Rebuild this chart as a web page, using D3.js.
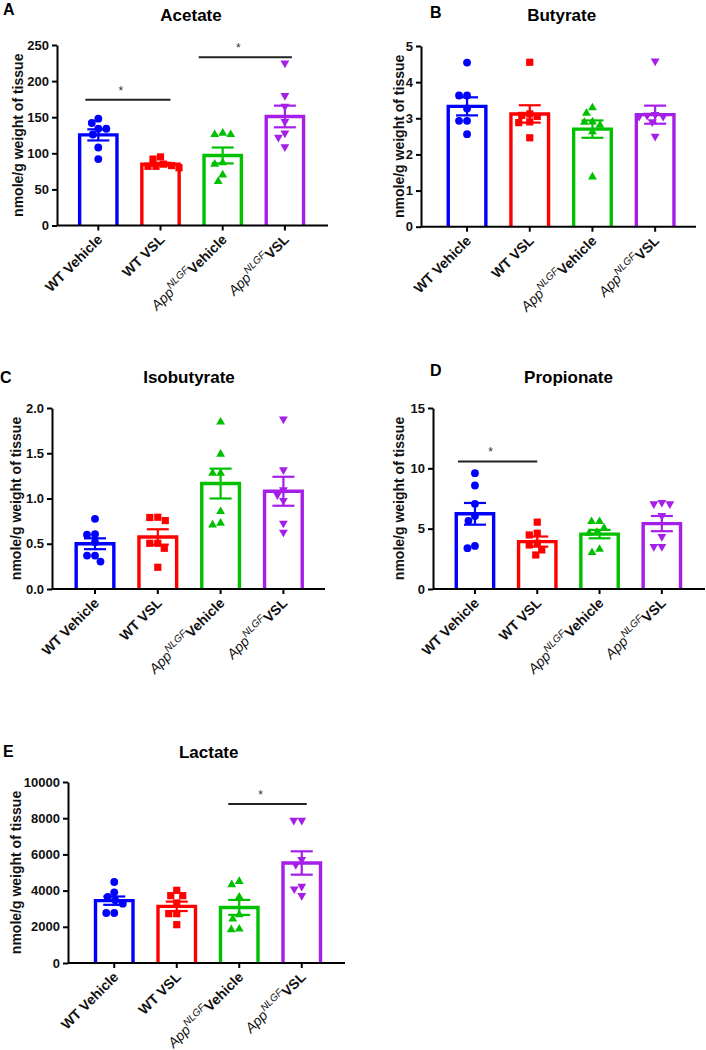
<!DOCTYPE html>
<html><head><meta charset="utf-8">
<script src="https://cdn.jsdelivr.net/npm/d3@7"></script>
<style>
body{margin:0;background:#fff}
svg{display:block}
text{font-family:"Liberation Sans",Arial,Helvetica,sans-serif}
</style>
</head><body>
<svg id="chart" width="706" height="1050"></svg>
<script>
// ---------------- DATA ----------------
const groups = ["WT Vehicle", "WT VSL", "AppNLGF Vehicle", "AppNLGF VSL"];
const groupColors = ["#0000ff", "#ff0000", "#00c000", "#a61fe8"];
const groupSymbols = ["circle", "square", "triangle", "triangleDown"];

const acetatePoints = [[148,142,134,134,126,108,92],[95,92,85,83,82,80,82],[128,126,126,87,85,70,61],[225,180,165,144,128,122,109]];
const acetateMeans = [125.5, 84.9, 97, 151];
const acetateSEM = [7.7, 2.0, 11, 15];
const acetateTicks = [0, 50, 100, 150, 200, 250];
const acetateSig = [{from:0, to:1, y:174}, {from:2, to:3, y:233}];

const butyratePoints = [[4.54,3.63,3.63,3.27,2.93,2.93,2.56],[4.55,3.12,3.08,3.05,2.9,2.88,2.46],[3.29,3.14,2.9,2.89,2.81,2.63,1.38],[4.58,3.1,3.08,3.05,3.05,2.9,2.5]];
const butyrateMeans = [3.33, 3.12, 2.70, 3.10];
const butyrateSEM = [0.25, 0.24, 0.24, 0.25];
const butyrateTicks = [0, 1, 2, 3, 4, 5];
const butyrateSig = [];

const isobutyratePoints = [[0.775,0.6,0.605,0.517,0.369,0.369,0.303],[0.793,0.756,0.79,0.505,0.45,0.505,0.24],[1.845,1.49,1.28,1.28,0.856,0.708,0.727],[1.878,1.317,1.04,1.096,0.978,0.727,0.627]];
const isobutyrateMeans = [0.5, 0.575, 1.165, 1.08];
const isobutyrateSEM = [0.06, 0.085, 0.165, 0.16];
const isobutyrateTicks = [0, 0.5, 1.0, 1.5, 2.0];
const isobutyrateSig = [];

const propionatePoints = [[9.6,8.58,7.06,6.06,5.65,3.38,3.57],[5.54,4.62,4.48,3.79,3.65,3.24,2.82],[5.59,5.59,5.04,4.7,4.62,3.29,3.02],[7.06,7.17,7.06,6.09,4.35,3.51,3.51]];
const propionateMeans = [6.23, 3.93, 4.55, 5.42];
const propionateSEM = [0.9, 0.42, 0.35, 0.63];
const propionateTicks = [0, 5, 10, 15];
const propionateSig = [{from:0, to:1, y:10.57}];

const lactatePoints = [[4475,3904,3646,3462,3278,2762,2762],[4015,3720,3720,3315,2726,2726,2118],[4512,4328,3646,2670,2431,1878,1842],[7882,7882,5709,5433,4236,4088,3720]];
const lactateMeans = [3444, 3131, 3070, 5525];
const lactateSEM = [230, 260, 415, 645];
const lactateTicks = [0, 2000, 4000, 6000, 8000, 10000];
const lactateSig = [{from:2, to:3, y:8785}];

const yLabel = "nmole/g weight of tissue";

// ---------------- LAYOUT ----------------
const panels = [
  {letter:"A", title:"Acetate", pts:acetatePoints, means:acetateMeans, sem:acetateSEM, ticks:acetateTicks, sig:acetateSig, fmt:d3.format("d"),
   x0:57, x1:328, y0:225.5, y1:45, b0:67.2, b1:316, lx:3, ly:15, tx:191, ty:21, ylx:18},
  {letter:"B", title:"Butyrate", pts:butyratePoints, means:butyrateMeans, sem:butyrateSEM, ticks:butyrateTicks, sig:butyrateSig, fmt:d3.format("d"),
   x0:421, x1:696, y0:226.7, y1:46, b0:435.7, b1:686.5, lx:430, ly:18, tx:561.7, ty:21, ylx:399},
  {letter:"C", title:"Isobutyrate", pts:isobutyratePoints, means:isobutyrateMeans, sem:isobutyrateSEM, ticks:isobutyrateTicks, sig:isobutyrateSig, fmt:d3.format(".1f"),
   x0:52, x1:325, y0:589, y1:408, b0:63.6, b1:314.8, lx:0, ly:383, tx:189, ty:383, ylx:16},
  {letter:"D", title:"Propionate", pts:propionatePoints, means:propionateMeans, sem:propionateSEM, ticks:propionateTicks, sig:propionateSig, fmt:d3.format("d"),
   x0:433, x1:705, y0:589, y1:408, b0:443.8, b1:693, lx:430, ly:376, tx:568.5, ty:383, ylx:399},
  {letter:"E", title:"Lactate", pts:lactatePoints, means:lactateMeans, sem:lactateSEM, ticks:lactateTicks, sig:lactateSig, fmt:d3.format("d"),
   x0:68, x1:345, y0:963, y1:782, b0:83, b1:333, lx:3, ly:757, tx:208.7, ty:758, ylx:16}
];
const sigOffsets = {A:[[-13,10],[-24,7]], D:[[-17,0]], E:[[-11,5]]};

const svg = d3.select("#chart");
const symbolTypes = {circle:d3.symbolCircle, square:d3.symbolSquare, triangle:d3.symbolTriangle, triangleDown:d3.symbolTriangle};
const symbolSizes = {circle:48, square:52, triangle:34, triangleDown:34};

function swarm(vals, y, cx, d) {
  const order = vals.map((v,i)=>i).sort((a,b)=>vals[b]-vals[a]);
  const placed = [];
  const out = new Array(vals.length);
  order.forEach(i => {
    const py = y(vals[i]);
    let px = cx;
    for (let k = 0; k < 60; k += 0.5) {
      let found = false;
      for (const s of (k === 0 ? [0] : [-1, 1])) {
        const cxk = cx + s*k;
        if (placed.every(p => (p.x-cxk)**2 + (p.y-py)**2 >= d*d)) { px = cxk; found = true; break; }
      }
      if (found) break;
    }
    placed.push({x:px, y:py});
    out[i] = {x:px, y:py, v:vals[i]};
  });
  return out;
}

panels.forEach(P => {
  const g = svg.append("g");
  const y = d3.scaleLinear().domain([P.ticks[0], P.ticks[P.ticks.length-1]]).range([P.y0, P.y1]);
  const x = d3.scaleBand().domain(groups).range([P.b0, P.b1]).padding(0);
  const bw = x.bandwidth()*0.6;
  const cx = gname => x(gname) + x.bandwidth()/2;

  g.append("text").attr("x", P.lx).attr("y", P.ly).attr("font-size", 16).attr("font-weight", "bold").text(P.letter);
  g.append("text").attr("x", P.tx).attr("y", P.ty).attr("font-size", 17).attr("font-weight", "bold").attr("text-anchor", "middle").text(P.title);

  groups.forEach((gn, i) => {
    const c = cx(gn), top = y(P.means[i]);
    g.append("path")
      .attr("d", `M${c-bw/2},${P.y0}V${top}H${c+bw/2}V${P.y0}`)
      .attr("fill", "none").attr("stroke", groupColors[i]).attr("stroke-width", 3.4);
  });

  groups.forEach((gn, i) => {
    const sym = groupSymbols[i];
    const pts = swarm(P.pts[i], y, cx(gn), 7.8);
    g.selectAll(null).data(pts).enter().append("path")
      .attr("d", d3.symbol().type(symbolTypes[sym]).size(symbolSizes[sym]))
      .attr("transform", d => `translate(${d.x},${d.y})` + (sym === "triangleDown" ? " rotate(180)" : ""))
      .attr("fill", groupColors[i]);
  });

  groups.forEach((gn, i) => {
    const c = cx(gn);
    const hi = y(P.means[i] + P.sem[i]), lo = y(P.means[i] - P.sem[i]);
    const eg = g.append("g").attr("stroke", groupColors[i]).attr("stroke-width", 2.2);
    eg.append("line").attr("x1", c).attr("x2", c).attr("y1", hi).attr("y2", lo);
    eg.append("line").attr("x1", c-11).attr("x2", c+11).attr("y1", hi).attr("y2", hi);
    eg.append("line").attr("x1", c-11).attr("x2", c+11).attr("y1", lo).attr("y2", lo);
  });

  const ya = g.append("g").attr("transform", `translate(${P.x0},0)`)
    .call(d3.axisLeft(y).tickValues(P.ticks).tickFormat(P.fmt).tickSize(5).tickSizeOuter(0).tickPadding(3));
  ya.select(".domain").attr("stroke", "#000").attr("stroke-width", 2);
  ya.selectAll(".tick line").attr("stroke", "#000").attr("stroke-width", 2);
  ya.selectAll(".tick text").attr("font-size", 13).attr("font-weight", "bold").attr("fill", "#111")
    .attr("font-family", "'Liberation Sans',Arial,sans-serif");

  const xa = g.append("g").attr("transform", `translate(0,${P.y0})`)
    .call(d3.axisBottom(x).tickSize(5).tickSizeOuter(0).tickFormat(""));
  xa.select(".domain").attr("d", `M${P.x0},0H${P.x1}`).attr("stroke", "#000").attr("stroke-width", 2);
  xa.selectAll(".tick line").attr("stroke", "#000").attr("stroke-width", 2);

  groups.forEach((gn, i) => {
    const c = cx(gn);
    const t = g.append("text").attr("text-anchor", "end")
      .attr("transform", `translate(${c+5},${P.y0+15}) rotate(-45)`)
      .attr("font-size", 14).attr("fill", "#111");
    if (gn.startsWith("App")) {
      const rest = gn.slice(7).trim();
      t.append("tspan").attr("font-style", "italic").text("App");
      t.append("tspan").attr("font-style", "italic").attr("font-size", 10).attr("dy", -6).text("NLGF");
      t.append("tspan").attr("font-weight", "bold").attr("dy", 6).text(rest);
    } else {
      t.attr("font-weight", "bold").text(gn);
    }
  });

  g.append("text").attr("transform", `translate(${P.ylx},${(P.y0+P.y1)/2}) rotate(-90)`)
    .attr("text-anchor", "middle").attr("dy", "0.35em").attr("font-size", 14).attr("font-weight", "bold").attr("fill", "#111")
    .text(yLabel);

  P.sig.forEach((s, k) => {
    const off = sigOffsets[P.letter][k];
    const xa1 = cx(groups[s.from]) + off[0], xa2 = cx(groups[s.to]) + off[1];
    const yy = y(s.y);
    g.append("line").attr("x1", xa1).attr("x2", xa2).attr("y1", yy).attr("y2", yy).attr("stroke", "#222").attr("stroke-width", 2);
    g.append("text").attr("x", (xa1+xa2)/2 - 7).attr("y", yy - 5).attr("text-anchor", "middle").attr("font-size", 12).attr("fill", "#333").text("*");
  });
});
</script>
</body></html>
